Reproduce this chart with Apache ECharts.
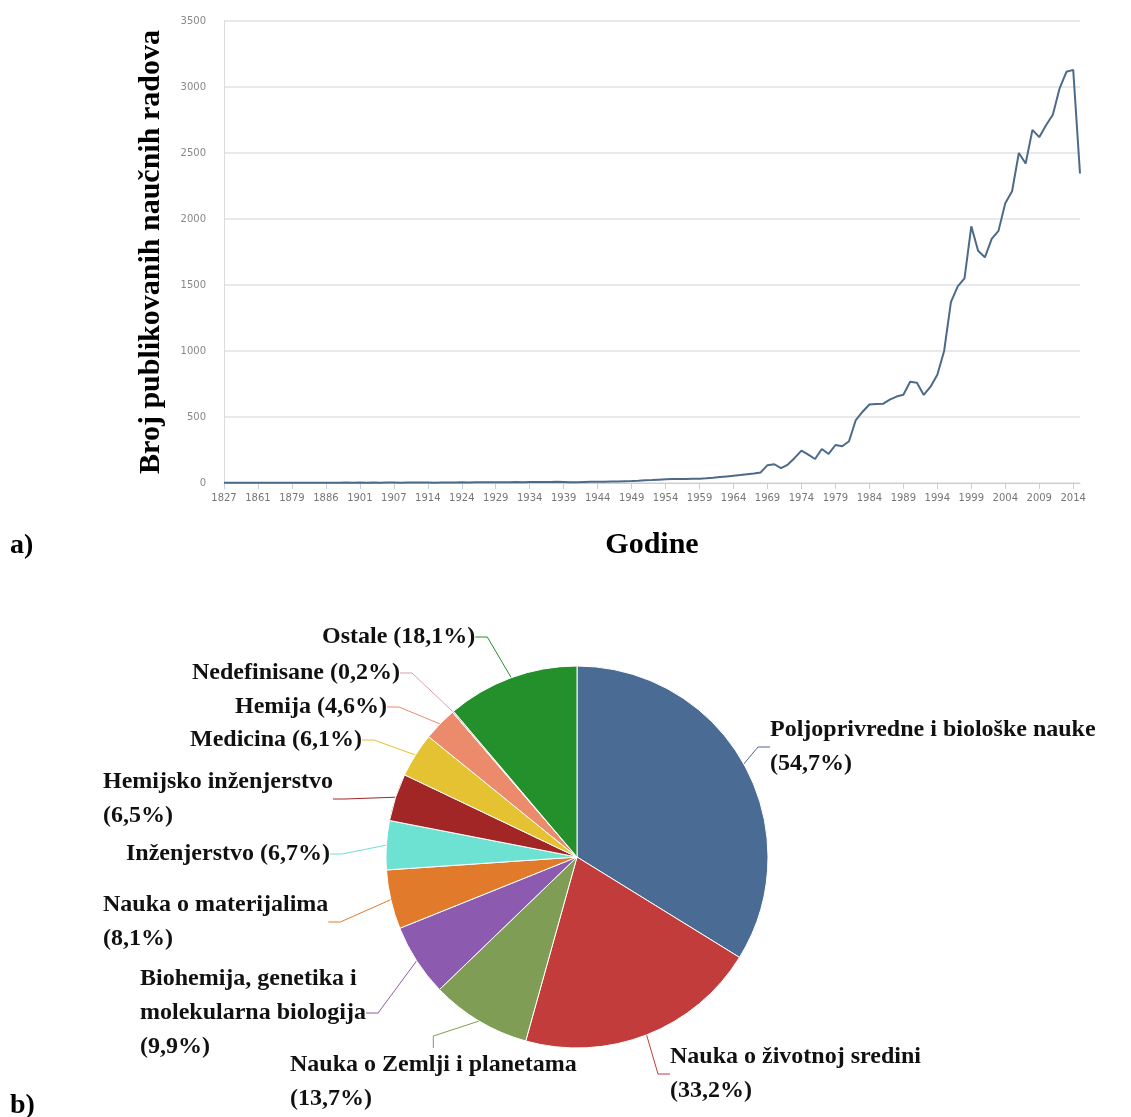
<!DOCTYPE html>
<html>
<head>
<meta charset="utf-8">
<script src="https://cdn.jsdelivr.net/npm/echarts@6/dist/echarts.min.js"></script>
<style>
  html, body { margin: 0; padding: 0; background: #ffffff; }
  #chart { width: 1131px; height: 1117px; }
</style>
</head>
<body>
<div id="chart"></div>
<script>
// ---- Data: line chart (a) ----
const years = [
  '1827','1832','1838','1845','1852','1861','1865','1870','1873','1876',
  '1879','1880','1882','1883','1885','1886','1888','1891','1895','1898',
  '1901','1902','1903','1905','1906','1907','1908','1910','1912','1913',
  '1914','1916','1919','1921','1923','1924','1925','1926','1927','1928',
  '1929','1930','1931','1932','1933','1934','1935','1936','1937','1938',
  '1939','1940','1941','1942','1943','1944','1945','1946','1947','1948',
  '1949','1950','1951','1952','1953','1954','1955','1956','1957','1958',
  '1959','1960','1961','1962','1963','1964','1965','1966','1967','1968',
  '1969','1970','1971','1972','1973','1974','1975','1976','1977','1978',
  '1979','1980','1981','1982','1983','1984','1985','1986','1987','1988',
  '1989','1990','1991','1992','1993','1994','1995','1996','1997','1998',
  '1999','2000','2001','2002','2003','2004','2005','2006','2007','2008',
  '2009','2010','2011','2012','2013','2014','2015'
];
const papers = [
  1,1,1,1,1,2,1,1,2,1,
  2,1,2,1,2,2,1,2,3,2,
  3,2,3,2,3,3,2,3,4,3,
  3,2,3,4,4,5,4,5,5,6,
  6,5,6,7,6,7,8,7,8,9,
  8,6,5,7,9,10,10,11,12,14,
  15,17,20,22,25,28,30,30,30,32,
  33,36,40,45,50,55,60,66,72,80,
  135,142,112,140,190,245,215,182,258,220,
  288,278,316,477,540,595,598,600,632,655,
  668,767,760,667,730,820,1000,1370,1490,1550,
  1945,1760,1710,1850,1910,2120,2210,2500,2420,2675,
  2620,2710,2790,2990,3115,3130,2345
];
const yTicks = [0, 500, 1000, 1500, 2000, 2500, 3000, 3500];

// ---- Data: pie chart (b) ----
const fieldNames = [
  'Poljoprivredne i biološke nauke',
  'Nauka o životnoj sredini',
  'Nauka o Zemlji i planetama',
  'Biohemija, genetika i molekularna biologija',
  'Nauka o materijalima',
  'Inženjerstvo',
  'Hemijsko inženjerstvo',
  'Medicina',
  'Hemija',
  'Nedefinisane',
  'Ostale'
];
const fieldShares = [54.7, 33.2, 13.7, 9.9, 8.1, 6.7, 6.5, 6.1, 4.6, 0.2, 18.1];

// ---- Styling / layout (not data) ----
const fieldLabelText = [
  'Poljoprivredne i biološke nauke\n(54,7%)',
  'Nauka o životnoj sredini\n(33,2%)',
  'Nauka o Zemlji i planetama\n(13,7%)',
  'Biohemija, genetika i\nmolekularna biologija\n(9,9%)',
  'Nauka o materijalima\n(8,1%)',
  'Inženjerstvo (6,7%)',
  'Hemijsko inženjerstvo\n(6,5%)',
  'Medicina (6,1%)',
  'Hemija (4,6%)',
  'Nedefinisane (0,2%)',
  'Ostale (18,1%)'
];
const fieldColors = ['#4a6b94','#c23c3c','#7f9d55','#8c5bb0','#e27a2c','#6de2d2','#a32626','#e4c232','#ec8a6c','#d9a0b0','#23902b'];
const labelBoxes = [
  [770, 713], [670, 1040], [290, 1048], [140, 962], [103, 888],
  [126, 837], [103, 765], [190, 723], [235, 690], [192, 656], [322, 620]
];

const serif = '"Liberation Serif", "Times New Roman", serif';

const chart = echarts.init(document.getElementById('chart'), null, { renderer: 'canvas' });

chart.setOption({
  backgroundColor: '#ffffff',
  animation: false,
  graphic: [
    { type: 'text', left: 10, top: 532, style: { text: 'a)', font: 'bold 28px ' + serif, fill: '#000' } },
    { type: 'text', left: 10, top: 1092, style: { text: 'b)', font: 'bold 28px ' + serif, fill: '#000' } }
  ],
  grid: { left: 224, right: 51, top: 21, height: 462, containLabel: false },
  xAxis: {
    type: 'category',
    data: years,
    boundaryGap: false,
    name: 'Godine',
    nameLocation: 'middle',
    nameGap: 47,
    nameTextStyle: { fontFamily: serif, fontWeight: 'bold', fontSize: 30, color: '#000' },
    axisLine: { lineStyle: { color: '#c0d0e0', width: 1 } },
    axisTick: { show: true, interval: 4, length: 6, lineStyle: { color: '#c0d0e0' } },
    axisLabel: { interval: 4, fontSize: 10, color: '#777', margin: 10, fontFamily: '"DejaVu Sans", sans-serif' },
    splitLine: { show: false }
  },
  yAxis: {
    type: 'value',
    min: yTicks[0],
    max: yTicks[yTicks.length - 1],
    interval: yTicks[1] - yTicks[0],
    name: 'Broj publikovanih naučnih radova',
    nameLocation: 'middle',
    nameGap: 58,
    nameTextStyle: { fontFamily: serif, fontWeight: 'bold', fontSize: 30, color: '#000' },
    axisLine: { show: true, lineStyle: { color: '#dcdcdc', width: 1 } },
    axisTick: { show: false },
    axisLabel: { fontSize: 10, color: '#888', margin: 18, fontFamily: '"DejaVu Sans", sans-serif', formatter: (v) => String(v) },
    splitLine: { lineStyle: { color: '#e2e2e2', width: 1.5 } }
  },
  series: [
    {
      type: 'line',
      data: papers,
      showSymbol: false,
      symbol: 'none',
      lineStyle: { color: '#4d6a89', width: 2 },
      z: 3
    },
    {
      type: 'pie',
      center: [577, 857],
      radius: 191,
      startAngle: 90,
      clockwise: true,
      avoidLabelOverlap: false,
      data: fieldNames.map((n, i) => ({
        name: n,
        value: fieldShares[i],
        itemStyle: { color: fieldColors[i] }
      })),
      itemStyle: { borderColor: '#ffffff', borderWidth: 1 },
      label: {
        show: true,
        position: 'outside',
        formatter: (p) => fieldLabelText[p.dataIndex],
        fontFamily: serif,
        fontWeight: 'bold',
        fontSize: 24,
        lineHeight: 34,
        color: '#111',
        align: 'left'
      },
      labelLine: { show: true, length: 12, length2: 12, lineStyle: { width: 1 } },
      labelLayout: (params) => {
        const b = labelBoxes[params.dataIndex];
        return { x: b[0], y: b[1], align: 'left', verticalAlign: 'top' };
      },
      emphasis: { disabled: true }
    }
  ]
});
</script>
</body>
</html>
